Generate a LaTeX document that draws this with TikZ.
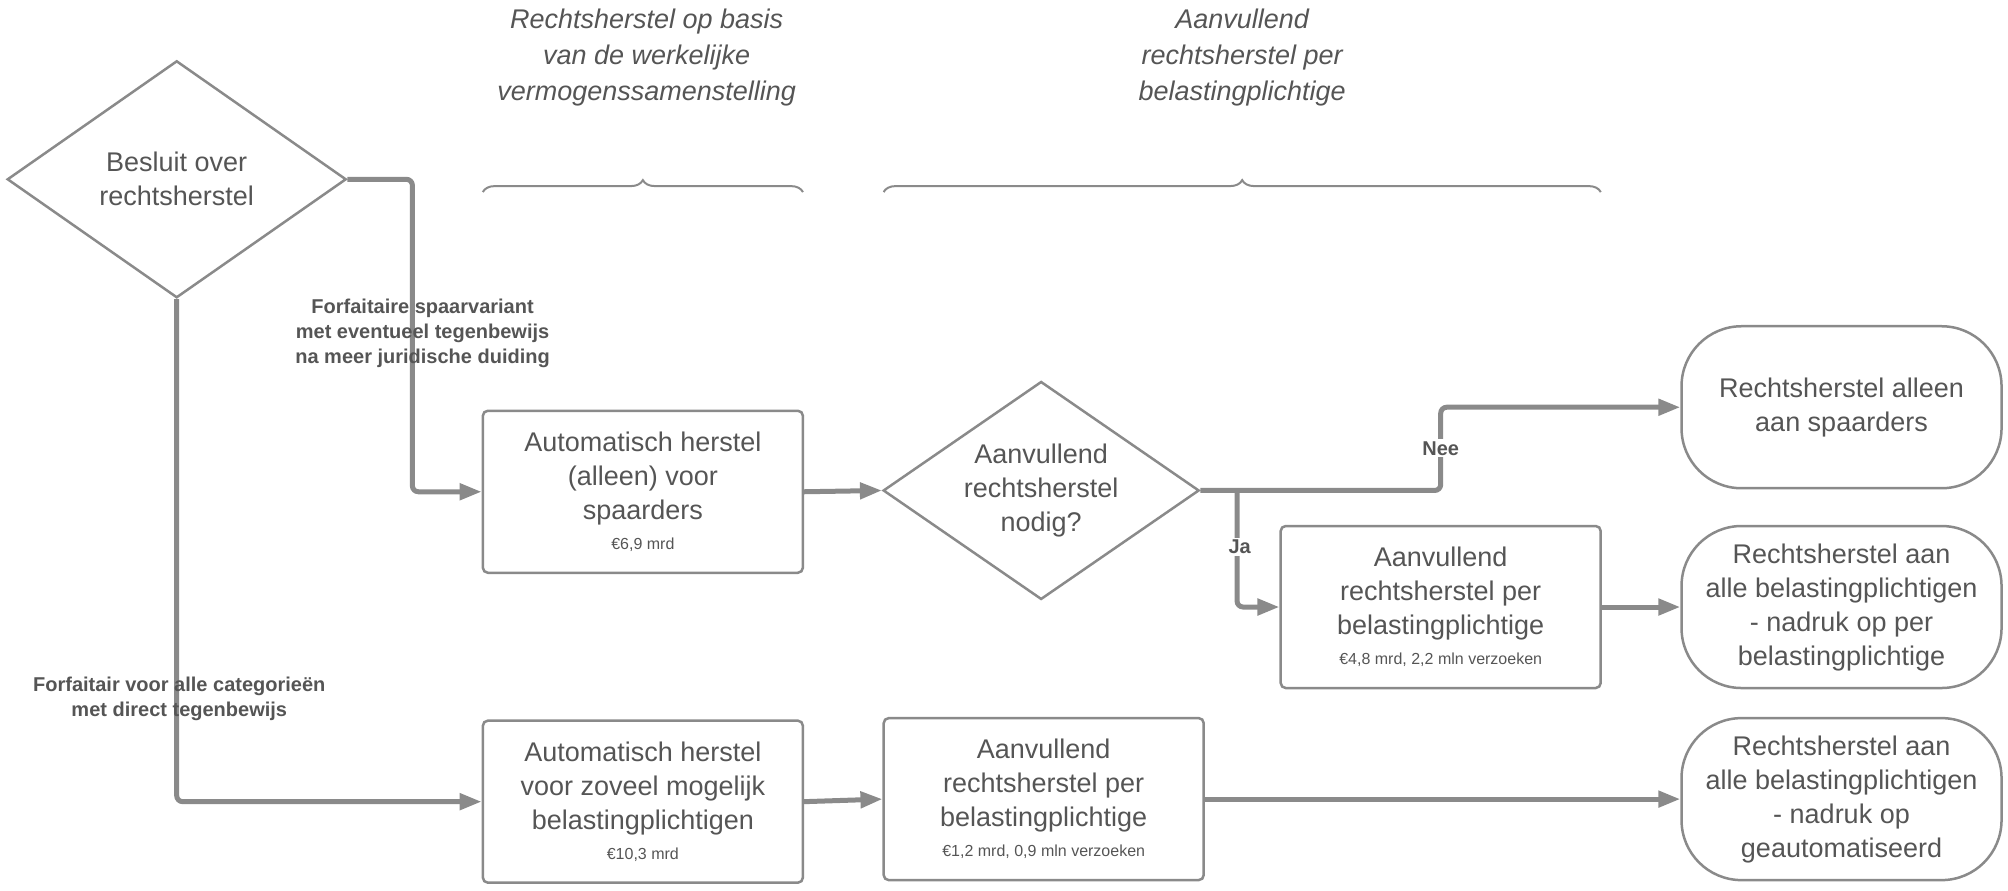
\documentclass[tikz,border=0pt]{standalone}
\usepackage{fontspec}
\setmainfont{Liberation Sans}
\usetikzlibrary{shapes.geometric,arrows.meta,decorations.pathreplacing}
\definecolor{ln}{HTML}{8A8A8A}
\definecolor{tx}{HTML}{555555}
\begin{document}
\begin{tikzpicture}[x=1.2806pt,y=-1.2806pt,
  every node/.style={text=tx,align=center},
  box/.style={draw=ln,line width=2.5pt,rounded corners=5pt,minimum width=320pt,minimum height=162pt,font=\fontsize{27}{34}\selectfont,inner sep=2pt},
  term/.style={draw=ln,line width=2.5pt,rounded corners=60pt,minimum width=320pt,minimum height=162pt,font=\fontsize{27}{34}\selectfont},
  dia/.style={draw=ln,line width=2.5pt,diamond,aspect=1.45,inner sep=0pt,font=\fontsize{27}{34}\selectfont},
  con/.style={draw=ln,line width=5pt,-{Triangle[length=22pt,width=16pt]},rounded corners=6pt},
  lab/.style={font=\bfseries\fontsize{20}{25}\selectfont},
  hd/.style={font=\itshape\fontsize{27}{36}\selectfont},
  sm/.style={font=\fontsize{16}{20}\selectfont},
  br/.style={draw=ln,line width=2pt,decorate,decoration={brace,amplitude=12pt}}]
\useasboundingbox (0,0) rectangle (1568,695);
\node[dia,minimum width=339pt,minimum height=237pt] (d1) at (138,140) {Besluit over\\rechtsherstel};
\node[dia,minimum width=316pt,minimum height=218pt] (d2) at (813,383) {Aanvullend\\rechtsherstel\\nodig?};
\node[box] (a1) at (502,384) {Automatisch herstel\\(alleen) voor\\spaarders\\[-4pt]\fontsize{16}{20}\selectfont €6,9 mrd};
\node[box] (a2) at (1125,474) {Aanvullend\\rechtsherstel per\\belastingplichtige\\[-4pt]\fontsize{16}{20}\selectfont €4,8 mrd, 2,2 mln verzoeken};
\node[box] (b1) at (502,626) {Automatisch herstel\\voor zoveel mogelijk\\belastingplichtigen\\[-4pt]\fontsize{16}{20}\selectfont €10,3 mrd};
\node[box] (b2) at (815,624) {Aanvullend\\rechtsherstel per\\belastingplichtige\\[-4pt]\fontsize{16}{20}\selectfont €1,2 mrd, 0,9 mln verzoeken};
\node[term] (t1) at (1438,318) {Rechtsherstel alleen\\aan spaarders};
\node[term] (t2) at (1438,474) {Rechtsherstel aan\\alle belastingplichtigen\\- nadruk op per\\belastingplichtige};
\node[term] (t3) at (1438,624) {Rechtsherstel aan\\alle belastingplichtigen\\- nadruk op\\geautomatiseerd};
\node[hd] (h1) at (505,45) {Rechtsherstel op basis\\van de werkelijke\\vermogenssamenstelling};
\node[hd] (h2) at (970,45) {Aanvullend\\rechtsherstel per\\belastingplichtige};
\coordinate (bl1) at (377,150); \coordinate (br1) at (627,150);
\coordinate (bl2) at (690,150); \coordinate (br2) at (1250,150);
\draw[br] (bl1) -- (br1);
\draw[br] (bl2) -- (br2);
\draw[con] (d1.east) -- (322,140) -- (322,384) -- (a1.west);
\node[lab] (l1) at (330,260) {Forfaitaire spaarvariant\\met eventueel tegenbewijs\\na meer juridische duiding};
\draw[con] (d1.south) -- (138,626) -- (b1.west);
\node[lab] (l2) at (140,546) {Forfaitair voor alle categorieën\\met direct tegenbewijs};
\draw[con] (a1.east) -- (d2.west);
\draw[con] (d2.east) -- (1125,383) -- (1125,318) -- (t1.west);
\node[lab,fill=white,inner sep=2pt] (nee) at (1125,350) {Nee};
\draw[con] (d2.east) ++(-2,0) coordinate (j0) (966,383) -- (966,474) -- (a2.west);
\node[lab,fill=white,inner sep=2pt] (ja) at (968,427) {Ja};
\draw[con] (a2.east) -- (t2.west);
\draw[con] (b1.east) -- (b2.west);
\draw[con] (b2.east) -- (t3.west);
\end{tikzpicture}
\end{document}
